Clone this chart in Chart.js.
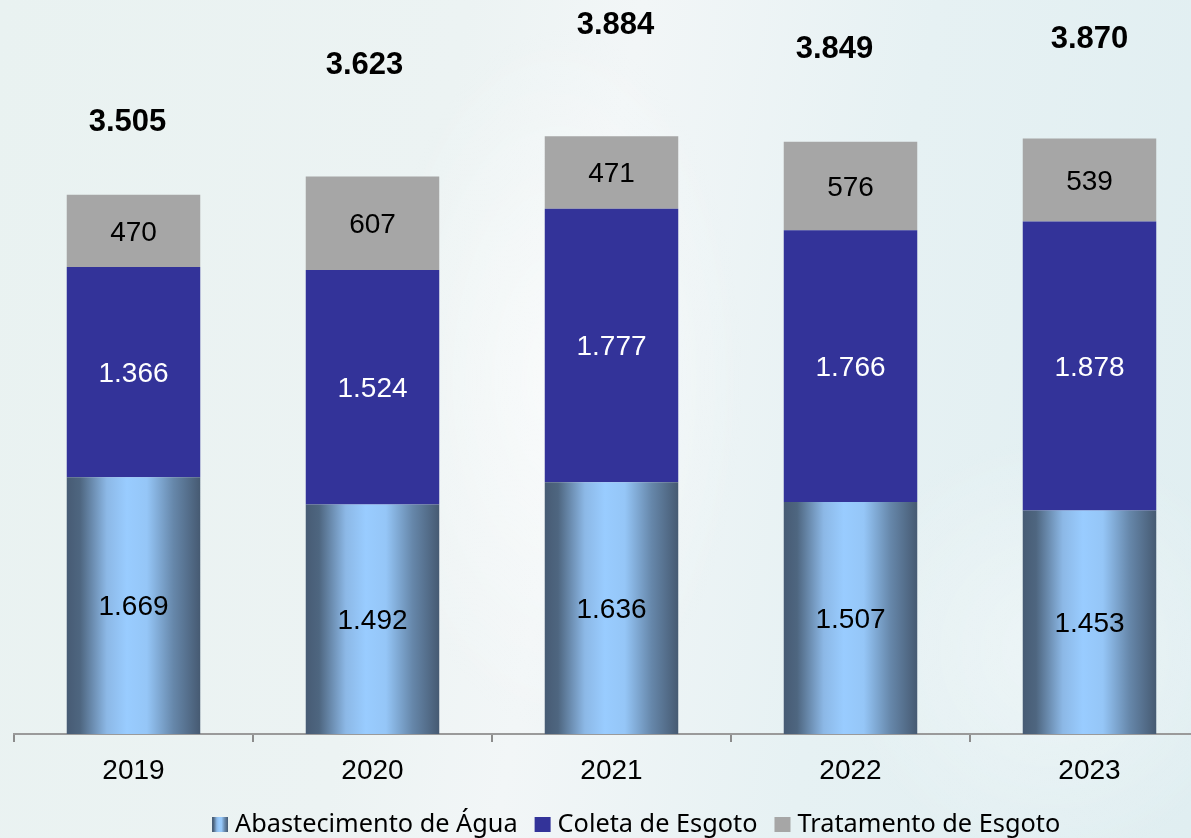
<!DOCTYPE html>
<html><head><meta charset="utf-8">
<script src="https://cdn.jsdelivr.net/npm/chart.js@4.4.0/dist/chart.umd.min.js"></script>
<style>
html,body{margin:0;padding:0;width:1191px;height:838px;overflow:hidden;}
body{
  background:
    radial-gradient(ellipse 260px 500px at 560px 380px, rgba(255,255,255,0.55), rgba(255,255,255,0) 70%),
    radial-gradient(ellipse 300px 300px at 1050px 650px, rgba(255,255,255,0.35), rgba(255,255,255,0) 70%),
    linear-gradient(100deg, #e9f2f1 0%, #ecf3f3 35%, #f2f6f7 48%, #e6f1f3 70%, #e0eef1 100%);
}
#wrap{position:absolute;left:0;top:0;width:1209px;height:838px;}
</style></head>
<body><div id="wrap"><canvas id="c" width="1209" height="838"></canvas></div>
<script>
// ---- data ----
const categories = ['2019', '2020', '2021', '2022', '2023'];
const abastecimento = [1669, 1492, 1636, 1507, 1453];
const coleta = [1366, 1524, 1777, 1766, 1878];
const tratamento = [470, 607, 471, 576, 539];
const seriesLabels = ['Abastecimento de Água', 'Coleta de Esgoto', 'Tratamento de Esgoto'];

// ---- style ----
const BAR_PCT = 0.5586;
const COLETA_COLOR = '#333399';
const TRAT_COLOR = '#a6a6a6';
const totalNudge = [[-6, -72], [-8, -111], [4, -111], [-16, -92], [0, -99]];

function fmt(v) {
  const s = String(Math.round(v));
  return s.replace(/\B(?=(\d{3})+(?!\d))/g, '.');
}
function addStops(g) {
  g.addColorStop(0, '#475b74');
  g.addColorStop(0.1, '#4e6680');
  g.addColorStop(0.3, '#8cb8e6');
  g.addColorStop(0.45, '#99ccff');
  g.addColorStop(0.6, '#95c6f7');
  g.addColorStop(0.8, '#6687aa');
  g.addColorStop(1, '#465a72');
  return g;
}
function barGradient(ctx) {
  const chart = ctx.chart;
  const xs = chart.scales && chart.scales.x;
  if (!xs || ctx.dataIndex === undefined || !chart.chartArea) return '#7fa6cf';
  const cx = xs.getPixelForValue(ctx.dataIndex);
  const w = xs.width / categories.length * BAR_PCT;
  return addStops(chart.ctx.createLinearGradient(cx - w / 2, 0, cx + w / 2, 0));
}

const labelPlugin = {
  id: 'labels',
  afterDatasetsDraw(chart) {
    const c = chart.ctx;
    c.save();
    c.textAlign = 'center';
    c.textBaseline = 'middle';
    chart.data.datasets.forEach((ds, di) => {
      const meta = chart.getDatasetMeta(di);
      meta.data.forEach((el, i) => {
        const y = (el.y + el.base) / 2;
        c.font = '28px "Liberation Sans", Arial, sans-serif';
        c.fillStyle = di === 1 ? '#ffffff' : '#000000';
        c.fillText(fmt(ds.data[i]), el.x, y + 2);
      });
    });
    const ys = chart.scales.y, xs = chart.scales.x;
    c.font = 'bold 31px "Liberation Sans", Arial, sans-serif';
    c.fillStyle = '#000000';
    categories.forEach((cat, i) => {
      const tot = abastecimento[i] + coleta[i] + tratamento[i];
      const x = xs.getPixelForValue(i) + totalNudge[i][0];
      const y = ys.getPixelForValue(tot) + totalNudge[i][1];
      c.fillText(fmt(tot), x, y);
    });
    c.restore();
  },
  afterDraw(chart) {
    const c = chart.ctx;
    c.save();
    c.font = '25.3px "Noto Sans", sans-serif';
    c.textBaseline = 'alphabetic';
    c.textAlign = 'left';
    const box = 16, gapBox = 7, gapItem = 17;
    let x = 212;
    const base = 832;
    chart.data.datasets.forEach((ds, di) => {
      if (di === 0) {
        c.fillStyle = addStops(c.createLinearGradient(x, 0, x + box, 0));
      } else {
        c.fillStyle = ds.backgroundColor;
      }
      c.fillRect(x, base - 15, box, 15);
      x += box + gapBox;
      c.fillStyle = '#000000';
      c.fillText(ds.label, x, base);
      x += c.measureText(ds.label).width + gapItem;
    });
    c.restore();
  }
};

new Chart(document.getElementById('c'), {
  type: 'bar',
  data: {
    labels: categories,
    datasets: [
      { label: seriesLabels[0], data: abastecimento, backgroundColor: barGradient },
      { label: seriesLabels[1], data: coleta, backgroundColor: COLETA_COLOR },
      { label: seriesLabels[2], data: tratamento, backgroundColor: TRAT_COLOR }
    ]
  },
  options: {
    responsive: false,
    animation: false,
    devicePixelRatio: 1,
    layout: { padding: { left: 14, right: 0, top: 0, bottom: 0 } },
    datasets: { bar: { barPercentage: BAR_PCT, categoryPercentage: 1, borderWidth: 0 } },
    plugins: { legend: { display: false }, tooltip: { enabled: false } },
    scales: {
      x: {
        stacked: true,
        afterFit(scale) { scale.height = 104; },
        grid: { drawOnChartArea: false, drawTicks: true, tickLength: 8, color: '#8c8c8c', lineWidth: 2, offset: true },
        border: { display: true, color: '#9a9a9a', width: 2 },
        ticks: { color: '#000000', padding: 12, font: { family: '"Liberation Sans", Arial, sans-serif', size: 28 } }
      },
      y: { stacked: true, display: false, min: 0, max: 4770 }
    }
  },
  plugins: [labelPlugin]
});
</script>
</body></html>
